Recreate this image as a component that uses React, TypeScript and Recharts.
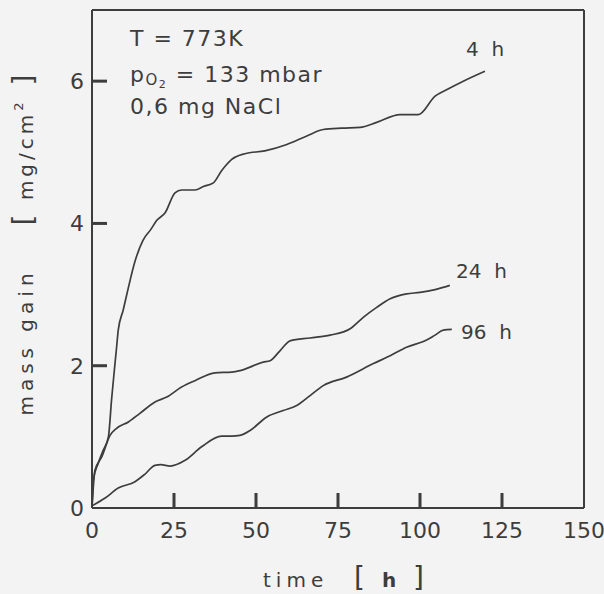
import React from 'react';
import { LineChart, Line, XAxis, YAxis } from 'recharts';

const INK = '#3d3d3d';
const FONT = '"DejaVu Sans", sans-serif';

// time [h] and mass gain [mg/cm²]
const T_4H = [0, 0.4, 1.9, 3.4, 5, 6, 6.8, 7.5, 8, 9.5, 11, 13, 15.5, 18, 19.7, 22.3, 25.3, 27.3, 31.4, 34, 37, 39.5, 42.6, 46.6, 52.7, 59.4, 65.5, 70.5, 76, 81.7, 86.8, 93.9, 99.5, 104.6, 108.1, 113.2, 119.8];
const V_4H = [0, 0.39, 0.63, 0.81, 1.0, 1.54, 1.93, 2.26, 2.5, 2.78, 3.08, 3.45, 3.76, 3.92, 4.04, 4.15, 4.43, 4.47, 4.47, 4.52, 4.57, 4.74, 4.9, 4.98, 5.02, 5.11, 5.23, 5.32, 5.34, 5.35, 5.42, 5.53, 5.53, 5.79, 5.88, 6.0, 6.14];

const T_24H = [0, 0.9, 3, 5.5, 7.5, 11.1, 14.6, 19.2, 22.8, 27.3, 31.4, 37.5, 42.6, 45.1, 52.2, 54.3, 57.3, 60.4, 66.5, 72.6, 78.7, 82.7, 86.8, 90.9, 95.9, 100, 104.6, 109.1];
const V_24H = [0, 0.53, 0.72, 1.02, 1.12, 1.21, 1.33, 1.49, 1.56, 1.7, 1.79, 1.9, 1.91, 1.93, 2.05, 2.07, 2.21, 2.35, 2.39, 2.43, 2.52, 2.68, 2.82, 2.94, 3.01, 3.03, 3.07, 3.13];

const T_96H = [0, 4, 8, 13.1, 16, 19.2, 21, 23.8, 28.4, 33.4, 39.5, 42.6, 45.1, 48.2, 53.3, 58.3, 62.4, 66.5, 70.5, 77.6, 85.8, 90.9, 95.9, 102, 104.6, 107.1, 109.7];
const V_96H = [0.03, 0.14, 0.28, 0.37, 0.47, 0.6, 0.61, 0.59, 0.67, 0.86, 1.01, 1.01, 1.02, 1.09, 1.28, 1.37, 1.44, 1.58, 1.72, 1.84, 2.03, 2.14, 2.26, 2.36, 2.43, 2.5, 2.51];

const X_TICKS = [0, 25, 50, 75, 100, 125, 150];
const Y_TICKS = [0, 2, 4, 6];

const toSeries = (t: number[], v: number[]) => t.map((x, i) => ({ t: x, v: v[i] }));

const series4 = toSeries(T_4H, V_4H);
const series24 = toSeries(T_24H, V_24H);
const series96 = toSeries(T_96H, V_96H);

const frame = { stroke: INK, strokeWidth: 2 };
const Y_GAP = 8;
const X_GAP = 14;
const MARK = 15;
const MARK_W = 3;

// label plus a short inward mark (none at the corners)
const YTick = (props: any) => {
  const x = Number(props.x);
  const y = Number(props.y);
  const value = Number(props.payload?.value);
  const axisX = x + Y_GAP;
  return (
    <g>
      {value > 0 && <rect x={axisX} y={y - MARK_W / 2} width={MARK} height={MARK_W} fill={INK} />}
      <text x={x} y={y} dy="0.36em" textAnchor="end" fill={INK} fontSize={22} fontFamily={FONT}>
        {value}
      </text>
    </g>
  );
};

const XTick = (props: any) => {
  const x = Number(props.x);
  const y = Number(props.y);
  const value = Number(props.payload?.value);
  const axisY = y - X_GAP;
  return (
    <g>
      {value > 0 && value < 150 && (
        <rect x={x - MARK_W / 2} y={axisY - MARK} width={MARK_W} height={MARK} fill={INK} />
      )}
      <text x={x} y={y} dy="0.72em" textAnchor="middle" fill={INK} fontSize={22} fontFamily={FONT}>
        {value}
      </text>
    </g>
  );
};

export default function App() {
  return (
    <div style={{ width: 604, height: 594, background: '#f3f3f3', position: 'relative' }}>
      <style>{'body{margin:0}'}</style>
      <LineChart
        width={604}
        height={594}
        margin={{ top: 9, right: 19, bottom: 85, left: 91 }}
      >
        <XAxis
          dataKey="t"
          type="number"
          domain={[0, 150]}
          ticks={X_TICKS}
          height={1}
          tickSize={0}
          tickMargin={X_GAP}
          tick={<XTick />}
          axisLine={frame}
          tickLine={false}
          allowDataOverflow
        />
        <XAxis
          xAxisId="top"
          orientation="top"
          type="number"
          domain={[0, 150]}
          height={1}
          tick={false}
          tickLine={false}
          axisLine={frame}
        />
        <YAxis
          type="number"
          domain={[0, 7]}
          ticks={Y_TICKS}
          width={1}
          tickSize={0}
          tickMargin={Y_GAP}
          tick={<YTick />}
          axisLine={frame}
          tickLine={false}
          allowDataOverflow
        />
        <YAxis
          yAxisId="right"
          orientation="right"
          type="number"
          domain={[0, 7]}
          width={1}
          tick={false}
          tickLine={false}
          axisLine={frame}
        />
        <Line data={series4} dataKey="v" type="monotone" stroke={INK} strokeWidth={1.7} dot={false} isAnimationActive={false} />
        <Line data={series24} dataKey="v" type="monotone" stroke={INK} strokeWidth={1.7} dot={false} isAnimationActive={false} />
        <Line data={series96} dataKey="v" type="monotone" stroke={INK} strokeWidth={1.7} dot={false} isAnimationActive={false} />
      </LineChart>

      <svg
        width={604}
        height={594}
        style={{ position: 'absolute', left: 0, top: 0, pointerEvents: 'none' }}
        fontFamily={FONT}
        fill={INK}
      >
        {/* conditions block */}
        <text x={130} y={46} fontSize={22} letterSpacing={1.5}>T = 773K</text>
        <text x={130} y={82} fontSize={22} letterSpacing={1.5}>
          p<tspan fontSize={15} dy={3}>O</tspan>
          <tspan fontSize={11} dy={3}>2</tspan>
          <tspan dy={-6}> = 133 mbar</tspan>
        </text>
        <text x={130} y={114} fontSize={22} letterSpacing={1.5}>0,6 mg NaCl</text>

        {/* curve labels */}
        <text x={466} y={56} fontSize={20}>4&#160;&#160;h</text>
        <text x={456} y={278} fontSize={20}>24&#160;&#160;h</text>
        <text x={461} y={339} fontSize={20}>96&#160;&#160;h</text>

        {/* axis titles */}
        <g transform="translate(33,0) rotate(-90)">
          <text x={-342} y={0} textAnchor="middle" fontSize={20} letterSpacing={5}>mass gain</text>
          <text x={-148} y={0} textAnchor="middle" fontSize={20} letterSpacing={4}>
            <tspan fontSize={28}>[</tspan>
            <tspan> mg/cm</tspan>
            <tspan fontSize={13} dy={-10}>2</tspan>
            <tspan fontSize={28} dy={10}> ]</tspan>
          </text>
        </g>
        <text x={263} y={587} fontSize={20} letterSpacing={5}>time</text>
        <text x={354} y={587} fontSize={20} letterSpacing={5}>
          <tspan fontSize={28}>[</tspan>
          <tspan fontWeight="bold"> h </tspan>
          <tspan fontSize={28}>]</tspan>
        </text>
      </svg>
    </div>
  );
}
